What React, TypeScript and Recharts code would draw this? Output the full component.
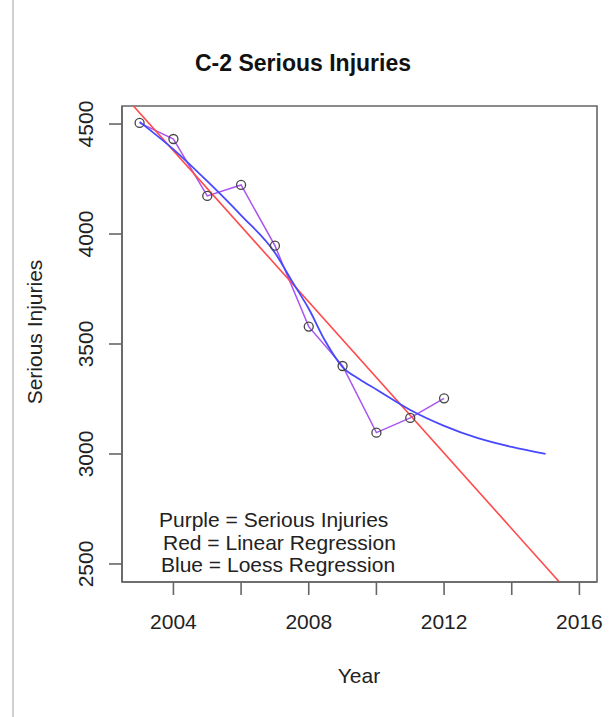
import React from 'react';
import { ComposedChart, Line, XAxis, YAxis, ReferenceLine, ReferenceArea } from 'recharts';

// Observed serious injuries per year (purple series with open circles)
const YEARS = [2003, 2004, 2005, 2006, 2007, 2008, 2009, 2010, 2011, 2012];
const SERIOUS_INJURIES = [4505, 4432, 4173, 4223, 3947, 3579, 3400, 3097, 3164, 3253];

// Loess fit
const LOESS_YEARS = [2003, 2004, 2005, 2006, 2007, 2007.5, 2008, 2008.5, 2009, 2009.5, 2010, 2011, 2012, 2013, 2014, 2015];
const LOESS_VALUES = [4510, 4385, 4240, 4085, 3915, 3787, 3660, 3510, 3395, 3340, 3293, 3200, 3128, 3072, 3032, 3000];

const X_TICKS = [2004, 2006, 2008, 2010, 2012, 2014, 2016];
const X_LABELED = [2004, 2008, 2012, 2016];
const Y_TICKS = [2500, 3000, 3500, 4000, 4500];
const LEGEND_LINES = ['Purple = Serious Injuries', 'Red = Linear Regression', 'Blue = Loess Regression'];

const X_DOMAIN: [number, number] = [2002.48, 2016.52];
const Y_DOMAIN: [number, number] = [2418, 4582];

const FONT = '"Liberation Sans", Arial, sans-serif';
const TEXT = '#222';
const AXIS = '#666';

const injuries = YEARS.map((year, i) => ({ year, value: SERIOUS_INJURIES[i] }));
const loess = LOESS_YEARS.map((year, i) => ({ year, value: LOESS_VALUES[i] }));

// ordinary least squares on the observed points
function linearFit(xs: number[], ys: number[]) {
  const n = xs.length;
  const mx = xs.reduce((a, b) => a + b, 0) / n;
  const my = ys.reduce((a, b) => a + b, 0) / n;
  let sxy = 0, sxx = 0;
  for (let i = 0; i < n; i++) {
    sxy += (xs[i] - mx) * (ys[i] - my);
    sxx += (xs[i] - mx) ** 2;
  }
  const slope = sxy / sxx;
  return (x: number) => my + slope * (x - mx);
}

const fit = linearFit(YEARS, SERIOUS_INJURIES);
const fitStart = X_DOMAIN[0] - 1;
const fitEnd = X_DOMAIN[1] + 1;

function XTick({ x, y, payload }: any) {
  if (!X_LABELED.includes(payload.value)) return null;
  return (
    <text x={x} y={y} textAnchor="middle" fontSize={21} fontFamily={FONT} fill={TEXT}>
      {payload.value}
    </text>
  );
}

function YTick({ x, y, payload }: any) {
  return (
    <text
      x={x}
      y={y}
      transform={`rotate(-90, ${x}, ${y})`}
      textAnchor="middle"
      fontSize={21}
      fontFamily={FONT}
      fill={TEXT}
    >
      {payload.value}
    </text>
  );
}

export default function App() {
  return (
    <div style={{ position: 'absolute', left: 0, top: 0, width: 614, height: 717, background: '#fff' }}>
      <div style={{ position: 'absolute', left: 12, top: 0, width: 2, height: 717, background: '#d0d0d0' }} />
      <ComposedChart width={614} height={717} margin={{ top: 106, right: 17, bottom: 105, left: 62 }}>
        <XAxis
          dataKey="year"
          type="number"
          domain={X_DOMAIN}
          ticks={X_TICKS}
          interval={0}
          allowDataOverflow
          height={30}
          tickSize={13}
          tickMargin={34}
          tick={<XTick />}
          stroke={AXIS}
          strokeWidth={1.6}
        />
        <YAxis
          type="number"
          domain={Y_DOMAIN}
          ticks={Y_TICKS}
          interval={0}
          allowDataOverflow
          width={60}
          tickSize={13}
          tickMargin={16}
          tick={<YTick />}
          stroke={AXIS}
          strokeWidth={1.6}
        />

        {/* plot frame */}
        <ReferenceArea
          x1={X_DOMAIN[0]}
          x2={X_DOMAIN[1]}
          y1={Y_DOMAIN[0]}
          y2={Y_DOMAIN[1]}
          fill="none"
          fillOpacity={0}
          stroke={AXIS}
          strokeWidth={1.6}
          strokeOpacity={1}
        />

        <Line
          data={injuries}
          dataKey="value"
          type="linear"
          stroke="#aa55f2"
          strokeWidth={1.5}
          dot={{ r: 4.5, stroke: '#444', strokeWidth: 1.3, fill: 'none' }}
          activeDot={false}
          isAnimationActive={false}
        />
        <ReferenceLine
          segment={[{ x: fitStart, y: fit(fitStart) }, { x: fitEnd, y: fit(fitEnd) }]}
          stroke="#ff4a4a"
          strokeWidth={1.6}
          ifOverflow="hidden"
        />
        <Line
          data={loess}
          dataKey="value"
          type="monotone"
          stroke="#4848ff"
          strokeWidth={1.8}
          dot={false}
          activeDot={false}
          isAnimationActive={false}
        />
      </ComposedChart>
      <svg width={614} height={717} style={{ position: 'absolute', left: 0, top: 0, pointerEvents: 'none' }}>
        <text x={303} y={71} textAnchor="middle" fontSize={23} fontWeight="bold" fontFamily={FONT} fill="#111">
          C-2 Serious Injuries
        </text>
        <text x={359} y={683} textAnchor="middle" fontSize={21} fontFamily={FONT} fill={TEXT}>
          Year
        </text>
        <text x={42} y={332} transform="rotate(-90, 42, 332)" textAnchor="middle" fontSize={21} fontFamily={FONT} fill={TEXT}>
          Serious Injuries
        </text>
        {LEGEND_LINES.map((line, i) => (
          <text key={line} x={[159, 163, 161][i]} y={527 + i * 22.5} fontSize={21} fontFamily={FONT} fill={TEXT}>
            {line}
          </text>
        ))}
      </svg>
    </div>
  );
}
